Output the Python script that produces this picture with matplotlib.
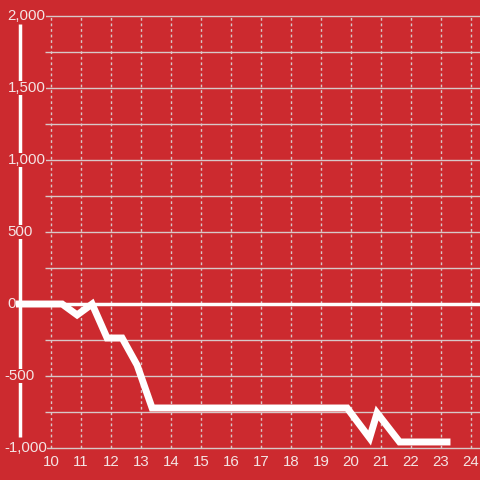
import matplotlib
matplotlib.use("Agg")
import matplotlib.pyplot as plt
import numpy as np

# series
x_vals = [8.87, 10.37, 10.87, 11.37, 11.87, 12.37, 12.87, 13.37, 19.87, 20.62, 20.87, 21.62, 23.2]
y_vals = [0, 0, -76, 0, -236, -236, -424, -722, -722, -930, -757, -958, -958]

x_ticks = list(range(10, 25))
y_ticks = [-1000, -500, 0, 500, 1000, 1500, 2000]
y_grid = np.arange(-1000, 2001, 250)

bg = "#cc2a2f"
fg = "#f4e4e4"
grid_col = "#d8c8c8"

plt.rcParams["font.family"] = ["Liberation Sans", "DejaVu Sans"]

fig = plt.figure(figsize=(4.8, 4.8), dpi=100, facecolor=bg)
ax = fig.add_axes([0, 0, 1, 1], facecolor=bg)
ax.set_xlim(8.3, 24.3)
ax.set_ylim(-1222, 2111)
ax.axis("off")

# grid
ax.hlines(y_grid, 9.8, 24.3, color=grid_col, lw=1, zorder=1)
ax.vlines(x_ticks, -1000, 2000, color=grid_col, lw=1, linestyles=(0, (2, 2)), zorder=1)

# zero line and left axis line
ax.hlines(0, 8.87, 24.3, color="white", lw=2.5, zorder=2)
ax.vlines(8.97, -924, 1944, color="white", lw=2.5, zorder=2)

# data
ax.plot(x_vals, y_vals, color="white", lw=5, solid_joinstyle="miter", zorder=3)

# tick labels (digits start at a fixed left edge, minus hangs to the left)
for v in y_ticks:
    lbl = f"{v:,}".replace("\u2212", "-")
    x0 = 8.43 if v < 0 else 8.55
    ax.text(x0, v, lbl, color=fg, fontsize=10.8, ha="left", va="center", zorder=4,
            bbox=dict(facecolor=bg, edgecolor="none", pad=0.3))
for v in x_ticks:
    ax.text(v, -1097, str(v), color=fg, fontsize=10.8, ha="center", va="center", zorder=4)

fig.savefig("out.png", dpi=100, facecolor=bg)
